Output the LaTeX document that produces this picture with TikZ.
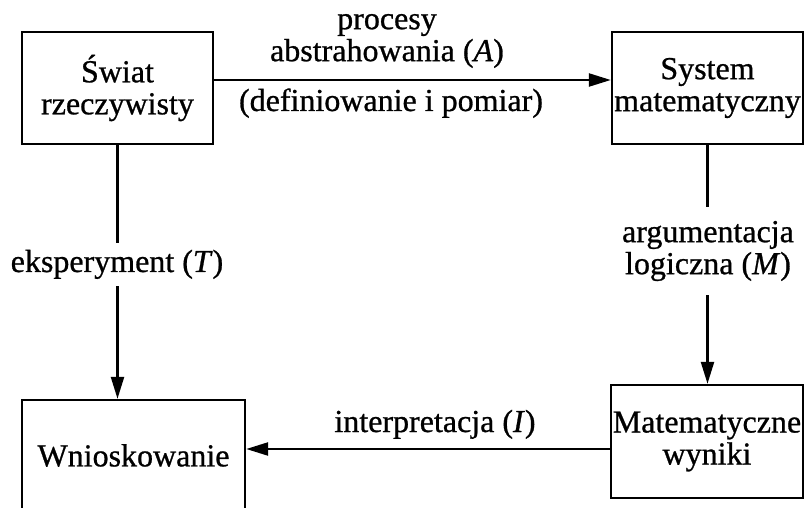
\documentclass[tikz,border=0pt]{standalone}
\usepackage{fontspec}
\setmainfont{Liberation Serif}[FakeBold=0.8,ItalicFeatures={FakeBold=0.8}]
\usetikzlibrary{arrows.meta}
\begin{document}
\begin{tikzpicture}[x=1pt,y=-1pt,
  every node/.style={font=\fontsize{32}{32}\selectfont},
  box/.style={draw,line width=2.4pt,align=center,inner sep=0pt},
  lab/.style={align=center,inner xsep=2pt},
  gaplab/.style={align=center,fill=white,inner xsep=2pt},
  conn/.style={line width=2.4pt,-{Triangle[length=22pt,width=13pt]}},
  plain/.style={line width=2.4pt}]
\useasboundingbox (0,0) rectangle (804,508);
% boxes
\node[box,minimum width=191pt,minimum height=112pt] (sw) at (117.5,88) {Świat\\rzeczywisty};
\node[box,minimum width=191pt,minimum height=112pt] (sys) at (707.5,88) {System\\matematyczny};
\node[box,minimum width=223pt,minimum height=111pt] (wn) at (133.5,455.5) {Wnioskowanie};
\node[box,minimum width=192pt,minimum height=113pt] (mw) at (707,441.5) {Matematyczne\\wyniki};
% labels
\node[lab] (labA) at (387,41) {procesy\\abstrahowania (\textit{A}\/)};
\node[lab,anchor=base] (labA2) at (391,111) {(definiowanie i pomiar)};
\node[lab,anchor=base] (labI) at (435,432) {interpretacja (\textit{I}\/)};
% connectors
\draw[conn] ([yshift=8pt]sw.east) -- ([yshift=8pt]sw.east -| sys.west);
\draw[conn] ([yshift=-7.5pt]mw.west) -- ([yshift=-7.5pt]mw.west -| wn.east);
\draw[conn] (sw.south) -- (sw.south |- wn.north);
\draw[conn] (sys.south) -- (sys.south |- mw.north);
\node[gaplab,anchor=base,inner ysep=7pt] (labT) at (117,272) {eksperyment (\textit{T}\/)};
\node[gaplab,inner ysep=14pt] (labM) at (708,251) {argumentacja\\logiczna (\textit{M}\/)};
\end{tikzpicture}
\end{document}
